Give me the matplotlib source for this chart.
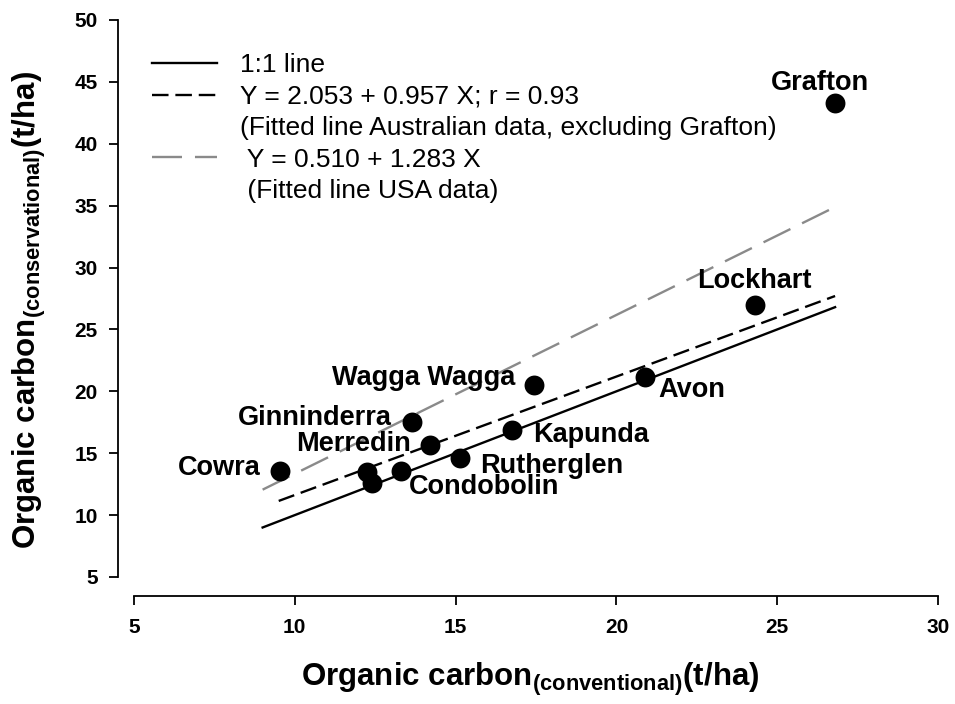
import numpy as np
import matplotlib
matplotlib.use("Agg")
import matplotlib.pyplot as plt
from matplotlib.lines import Line2D

# Data
SITES = ["Grafton", "Lockhart", "Avon", "Wagga Wagga", "Kapunda", "Rutherglen",
         "Merredin", "Ginninderra", "Condobolin", "", "", "Cowra"]
OC_CONVENTIONAL = [26.8, 24.3, 20.9, 17.45, 16.75, 15.15, 14.2, 13.65, 13.3, 12.25, 12.4, 9.55]
OC_CONSERVATIONAL = [43.3, 27.0, 21.15, 20.55, 16.85, 14.65, 15.7, 17.5, 13.6, 13.5, 12.6, 13.6]

# line ranges and fitted coefficients (intercept, slope)
ONE_TO_ONE_X = [9.0, 26.8]
FIT_AU_X = [9.5, 26.8]
FIT_AU = (2.053, 0.957)
FIT_US_X = [9.0, 26.8]
FIT_US = (0.510, 1.283)

X_TICKS = [5, 10, 15, 20, 25, 30]
Y_TICKS = [5, 10, 15, 20, 25, 30, 35, 40, 45, 50]

# label placement: (dx, dy) in points, horizontal alignment
LABEL_STYLE = {
    "Grafton": ((-11, 14), "center"),
    "Lockhart": ((0, 17), "center"),
    "Avon": ((9.5, -9.5), "left"),
    "Wagga Wagga": ((-13.5, 5), "right"),
    "Kapunda": ((15, -3.6), "left"),
    "Rutherglen": ((14.5, -6), "left"),
    "Merredin": ((-13.5, 0.5), "right"),
    "Ginninderra": ((-14.5, 3), "right"),
    "Condobolin": ((6, -12), "left"),
    "Cowra": ((-14.5, 1.5), "right"),
}

GRAY = "#8a8a8a"
LW = 1.7

plt.rcParams["font.family"] = ["Liberation Sans", "DejaVu Sans"]
plt.rcParams["mathtext.fontset"] = "custom"
plt.rcParams["mathtext.rm"] = "Liberation Sans:bold"
plt.rcParams["mathtext.it"] = "Liberation Sans:bold"
plt.rcParams["mathtext.bf"] = "Liberation Sans:bold"

fig = plt.figure(figsize=(9.55, 7.04), dpi=100)
ax = fig.add_axes([0.1403, 0.1804, 0.8419, 0.7912])

# Spines first (set_position resets the tick labels)
for side in ["top", "right"]:
    ax.spines[side].set_visible(False)
ax.spines["left"].set_position(("outward", 11.5))
ax.spines["bottom"].set_position(("outward", 13.7))
for side in ["left", "bottom"]:
    ax.spines[side].set_linewidth(1.3)

# Lines
x11 = np.array(ONE_TO_ONE_X)
ax.plot(x11, x11, color="black", linewidth=LW, label="1:1 line")

xau = np.array(FIT_AU_X)
ax.plot(xau, FIT_AU[0] + FIT_AU[1] * xau, color="black", linewidth=LW,
        dashes=(7, 2.9), label="Y = 2.053 + 0.957 X; r = 0.93")

xus = np.array(FIT_US_X)
ax.plot(xus, FIT_US[0] + FIT_US[1] * xus, color=GRAY, linewidth=LW,
        dashes=(12.7, 5.5), label=" Y = 0.510 + 1.283 X")

# Points
ax.scatter(OC_CONVENTIONAL, OC_CONSERVATIONAL, s=205, color="black",
           zorder=3, linewidths=0)

for name, xv, yv in zip(SITES, OC_CONVENTIONAL, OC_CONSERVATIONAL):
    if not name:
        continue
    (dx, dy), ha = LABEL_STYLE[name]
    ax.annotate(name, (xv, yv), xytext=(dx, dy), textcoords="offset points",
                ha=ha, va="center", fontsize=19.5, fontweight="bold")

# Legend (two-line labels split so handles sit on the first line)
h = ax.get_legend_handles_labels()[0]
blank = Line2D([], [], color="none")
handles = [h[0], h[1], blank, h[2], blank]
labels = ["1:1 line",
          "Y = 2.053 + 0.957 X; r = 0.93",
          "(Fitted line Australian data, excluding Grafton)",
          " Y = 0.510 + 1.283 X",
          " (Fitted line USA data)"]
ax.legend(handles, labels, loc="upper left", bbox_to_anchor=(0.022, 0.940),
          frameon=False, fontsize=19, handlelength=2.46, handletextpad=0.87,
          labelspacing=0.28, borderpad=0, borderaxespad=0)

# Axes styling
ax.set_xlim(5, 30)
ax.set_ylim(5, 50)
ax.set_xticks(X_TICKS, labels=[str(t) for t in X_TICKS],
              fontsize=15, fontweight="bold")
ax.set_yticks(Y_TICKS, labels=[str(t) for t in Y_TICKS],
              fontsize=15, fontweight="bold")
ax.tick_params(axis="both", direction="out", length=6.5, width=1.3)
ax.tick_params(axis="y", pad=8)
ax.tick_params(axis="x", pad=9)

ax.set_xlabel("Organic carbon$_{\\mathrm{(conventional)}}$(t/ha)",
              fontsize=22.5, fontweight="bold")
ax.set_ylabel("Organic carbon$_{\\mathrm{(conservational)}}$(t/ha)",
              fontsize=22.5, fontweight="bold")
ax.xaxis.set_label_coords(0.4925, -0.150)
ax.yaxis.set_label_coords(-0.107, 0.479)

fig.savefig("out.png", dpi=100)
